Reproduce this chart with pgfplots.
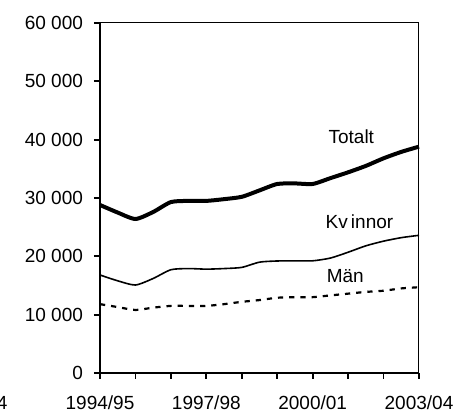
\documentclass[border=0pt]{standalone}
\usepackage{fontspec}
\setmainfont{Liberation Sans}
\usepackage{pgfplots}
\pgfplotsset{compat=1.18}

\newcommand{\lab}{\fontsize{9.5pt}{11pt}\selectfont}

\begin{document}
\begin{tikzpicture}
\begin{axis}[
    name=ax,
    scale only axis,
    width=159.5pt, height=175pt,
    xmin=0, xmax=9,
    ymin=0, ymax=60000,
    scaled y ticks=false,
    xtick={0,...,9},
    xticklabels={1994/95,,,1997/98,,,2000/01,,,2003/04},
    ytick={0,10000,...,60000},
    yticklabels={0,10 000,20 000,30 000,40 000,50 000,60 000},
    tick pos=left,
    tick align=outside,
    major tick length=3pt,
    every tick/.style={black, line width=0.9pt},
    axis line style={line width=0.5pt},
    tick label style={font=\lab},
    yticklabel style={xshift=-2pt},
    xticklabel style={yshift=-5pt},
    clip=false,
]

% Totalt
\addplot[black, line width=2pt, smooth, tension=0.4] coordinates {
  (0,28800)(0.5,27500)(1,26400)(1.5,27600)(2,29300)(2.5,29500)(3,29500)
  (3.5,29800)(4,30200)(4.5,31300)(5,32400)(5.5,32500)(6,32400)(6.5,33400)
  (7,34400)(7.5,35500)(8,36800)(8.5,37900)(9,38800)
};

% Kvinnor
\addplot[black, line width=0.8pt, smooth, tension=0.4] coordinates {
  (0,16800)(0.5,15800)(1,15080)(1.5,16200)(2,17700)(2.5,17900)(3,17800)
  (3.5,17900)(4,18100)(4.5,19000)(5,19200)(5.5,19230)(6,19230)(6.5,19700)
  (7,20700)(7.5,21800)(8,22600)(8.5,23200)(9,23600)
};

% Män
\addplot[black, line width=1.1pt, smooth, tension=0.4, dash pattern=on 2.6pt off 3pt] coordinates {
  (0,11800)(0.5,11300)(1,10800)(1.5,11200)(2,11500)(2.5,11500)(3,11500)
  (3.5,11800)(4,12200)(4.5,12500)(5,12900)(5.5,13000)(6,13000)(6.5,13300)
  (7,13600)(7.5,13900)(8,14100)(8.5,14500)(9,14700)
};

\draw[line width=1pt] (rel axis cs:0,1) -- (rel axis cs:0,0) -- (rel axis cs:1,0);

\node[font=\lab] at (axis cs:7.09,40580) {Totalt};
\node[font=\lab] at (axis cs:7.32,25860) {Kv\,innor};
\node[font=\lab] at (axis cs:6.92,16610) {Män};
\node[font=\lab, anchor=east, inner sep=0pt] at (axis cs:-2.6,-5140) {4};
\end{axis}
\pgfresetboundingbox
\path ([xshift=-50pt,yshift=-19.5pt]ax.south west) rectangle ([xshift=20pt,yshift=11.5pt]ax.north east);
\end{tikzpicture}
\end{document}
